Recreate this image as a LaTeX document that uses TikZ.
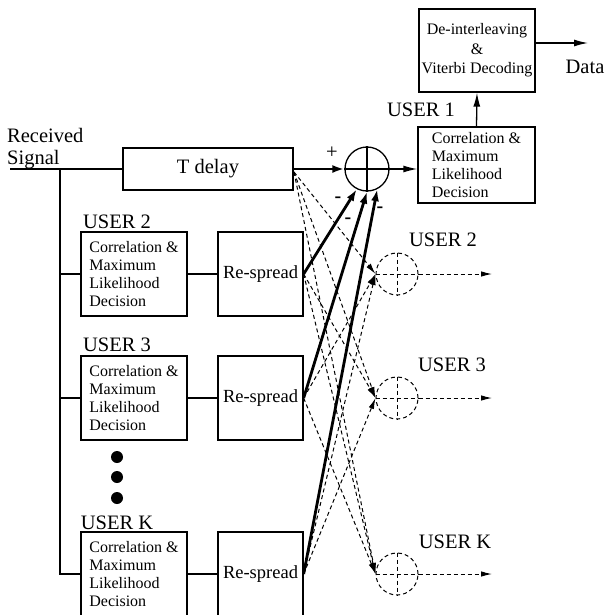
\documentclass[tikz,border=0pt]{standalone}
\usepackage{fontspec}
\setmainfont{Liberation Serif}
\usetikzlibrary{arrows.meta}
\begin{document}
\begin{tikzpicture}[x=1pt,y=-1pt,
  box/.style={draw, line width=1.3pt, inner sep=0pt},
  lbl/.style={font=\fontsize{20.5}{22}\selectfont, inner sep=0pt},
  ln/.style={line width=1.3pt},
  arr/.style={line width=1.3pt, -{Latex[length=14pt,width=7pt]}},
  thk/.style={line width=2.8pt, -{Latex[length=12pt,width=8pt]}},
  dshl/.style={line width=1pt, dash pattern=on 4pt off 3pt},
  dsh/.style={dshl, -{Latex[length=11pt,width=5.5pt]}},
  dcirc/.style={circle, draw, dshl, minimum size=42pt, inner sep=0pt},
  corr/.style={box, minimum width=106pt, minimum height=84pt, align=left, font=\fontsize{16}{17.7}\selectfont},
  resp/.style={box, minimum width=85pt, minimum height=84pt, font=\fontsize{18.5}{20}\selectfont},
  sgn/.style={font=\bfseries\fontsize{20}{20}\selectfont, inner sep=0pt},
]
\useasboundingbox (0,0) rectangle (608,615);

% input and delay
\node[lbl, align=left, anchor=west] (rx) at (7,149) {Received\\Signal};
\coordinate (inp) at (10,169);
\node[box, lbl, minimum width=170pt, minimum height=42pt] (td) at (208,169) {T delay};
\draw[ln] (inp) -- (td.west);
\coordinate (v0) at (60,169);

% summing junction user 1
\node[circle, draw, line width=1.3pt, minimum size=44pt, inner sep=0pt] (sum) at (367,169) {};
\draw[ln] (sum.north) -- (sum.south) (sum.west) -- (sum.east);
\draw[thk] (td.east) -- (sum.west);
\node[lbl] (plus) at (332,153) {+};

% user 1 chain
\node[corr, minimum width=117pt, minimum height=76pt] (c1) at (476.5,165)
  {Correlation \&\\Maximum\\Likelihood\\Decision};
\draw[arr] (sum.east) -- (sum.east -| c1.west);
\node[box, minimum width=116pt, minimum height=83pt, align=center,
  font=\fontsize{16}{19.5}\selectfont] (dei) at (477,50.5)
  {De-interleaving\\\&\\Viterbi Decoding};
\draw[arr] (c1.north) -- (dei.south);
\coordinate (dend) at (588,43);
\draw[arr] (dei.east |- dend) -- (dend);
\node[lbl] (data) at (585,67) {Data};
\node[lbl] (u1) at (421,110) {USER 1};

% other users, left side
\node[lbl] (u2) at (117,222) {USER 2};
\node[corr] (c2) at (134,274) {Correlation \&\\Maximum\\Likelihood\\Decision};
\node[resp] (r2) at (260.5,274) {Re-spread};
\draw[ln] (c2.east) -- (r2.west);

\node[lbl] (u3) at (117,345) {USER 3};
\node[corr] (c3) at (134,398) {Correlation \&\\Maximum\\Likelihood\\Decision};
\node[resp] (r3) at (260.5,398) {Re-spread};
\draw[ln] (c3.east) -- (r3.west);

\node[circle, fill, minimum size=12pt, inner sep=0pt] (d1) at (117,457) {};
\node[circle, fill, minimum size=12pt, inner sep=0pt] (d2) at (117,477) {};
\node[circle, fill, minimum size=12pt, inner sep=0pt] (d3) at (117,498) {};

\node[lbl] (uK) at (117,523) {USER K};
\node[corr] (cK) at (134,574) {Correlation \&\\Maximum\\Likelihood\\Decision};
\node[resp] (rK) at (260.5,574) {Re-spread};
\draw[ln] (cK.east) -- (rK.west);

% received signal distribution
\draw[ln] (v0) |- (cK.west);
\draw[ln] (c2.west -| v0) -- (c2.west);
\draw[ln] (c3.west -| v0) -- (c3.west);

% thick cancellation arrows to user 1
\draw[thk] (r2.east) -- (sum.243);
\draw[thk] (r3.east) -- (sum.270);
\draw[thk] (rK.east) -- (sum.297);
\node[sgn] (m1) at (338,200) {-};
\node[sgn] (m2) at (348,221) {-};
\node[sgn] (m3) at (380,210) {-};

% dashed junctions for other users
\node[dcirc] (o2) at (397,274) {};
\node[dcirc] (o3) at (397,398) {};
\node[dcirc] (oK) at (397,574) {};
\foreach \o in {o2,o3,oK}{
  \draw[dshl] (\o.north) -- (\o.south) (\o.west) -- (\o.east);
}
\coordinate (e2) at (492,274);
\coordinate (e3) at (492,398);
\coordinate (eK) at (492,574);
\draw[dsh] (o2.east) -- (e2);
\draw[dsh] (o3.east) -- (e3);
\draw[dsh] (oK.east) -- (eK);
\node[lbl] (ru2) at (443,240) {USER 2};
\node[lbl] (ru3) at (452,365) {USER 3};
\node[lbl] (ruK) at (455,542) {USER K};

\coordinate (tdo) at (294,172);
\draw[dsh] (tdo) -- (o2.west);
\draw[dsh] (tdo) -- (o3.west);
\draw[dsh] (tdo) -- (oK.west);
\draw[dsh] (r3.east) -- (o2.west);
\draw[dsh] (rK.east) -- (o2.west);
\draw[dsh] (r2.east) -- (o3.west);
\draw[dsh] (rK.east) -- (o3.west);
\draw[dsh] (r2.east) -- (oK.west);
\draw[dsh] (r3.east) -- (oK.west);
\end{tikzpicture}
\end{document}
